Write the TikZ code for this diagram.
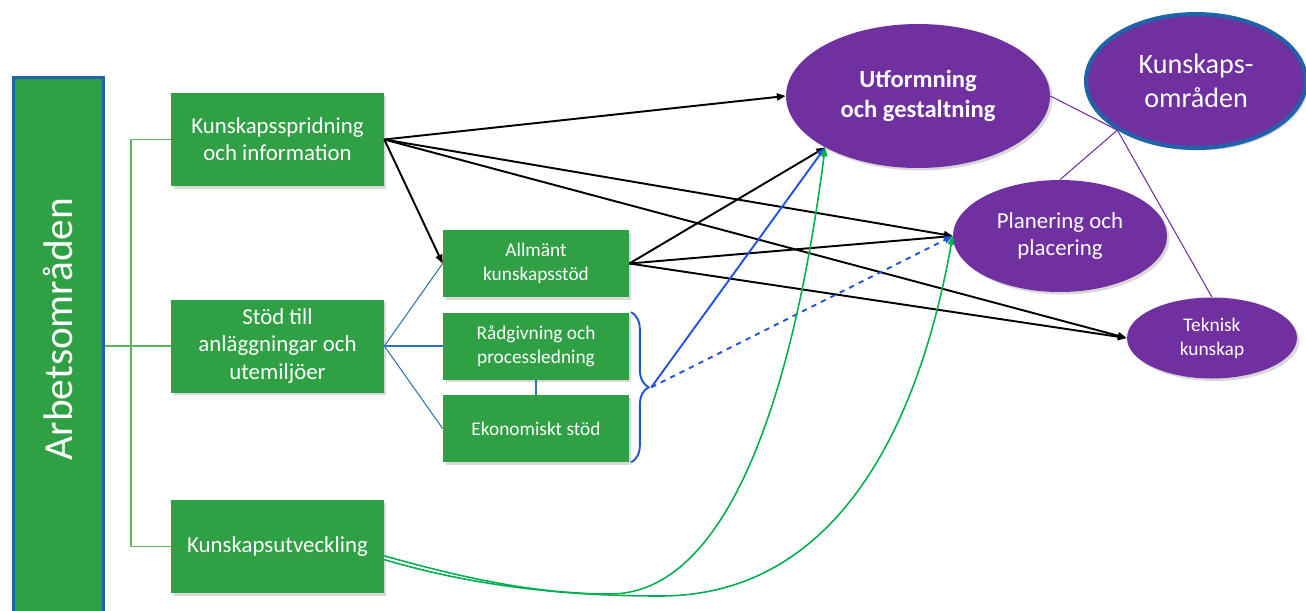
\documentclass[tikz,border=0pt]{standalone}
\usepackage{fontspec}
\setmainfont{Carlito}
\usetikzlibrary{positioning,arrows.meta,shapes.geometric,shadows,decorations.pathreplacing,calc}

\definecolor{boxgreen}{RGB}{47,160,68}
\definecolor{areapurple}{RGB}{112,48,160}
\definecolor{frameblue}{RGB}{31,100,170}
\definecolor{linkblue}{RGB}{35,85,215}
\definecolor{thinblue}{RGB}{46,117,182}
\definecolor{treegreen}{RGB}{90,180,90}
\definecolor{curvegreen}{RGB}{0,176,80}

\tikzset{
  softshadow/.style={drop shadow={shadow xshift=0.05cm, shadow yshift=-0.05cm, opacity=0.3}},
  greenbox/.style={rectangle, fill=boxgreen, text=white, align=center, softshadow},
  areabox/.style={greenbox, minimum width=4.26cm, minimum height=1.86cm, font=\fontsize{13}{15.5}\selectfont},
  subbox/.style={greenbox, minimum width=3.72cm, minimum height=1.34cm, font=\fontsize{11}{13.8}\selectfont},
  arbbox/.style={rectangle, fill=boxgreen, draw=frameblue, line width=1.7pt, text=white,
    minimum width=10.88cm, minimum height=1.8cm, font=\fontsize{23.5}{28}\selectfont},
  field/.style={ellipse, fill=areapurple, text=white, align=center, inner sep=0pt, softshadow},
  link/.style={-{Triangle[length=5pt,width=4pt]}, line width=1.1pt},
  bluelink/.style={link, linkblue},
  growth/.style={-{Triangle[length=5pt,width=4pt]}, curvegreen, line width=0.9pt},
  branch/.style={thinblue, line width=0.6pt},
  tree/.style={treegreen, line width=0.6pt},
  scopeline/.style={areapurple, line width=0.6pt},
  bracestyle/.style={linkblue, line width=1.1pt, decorate, decoration={brace, amplitude=10pt}}
}

\begin{document}
\begin{tikzpicture}[x=0.02cm, y=-0.02cm]
\useasboundingbox (0,0) rectangle (1306,610);
\clip (0,0) rectangle (1306,610);
\fill[white] (0,0) rectangle (1306,610);

\node (Arb) [arbbox, rotate=90] at (58.5,349) {\hspace*{0.8cm}Arbetsområden};

\node (K1) [areabox] at (277.5,139.5) {Kunskapsspridning\\och information};
\node (K2) [areabox] at (277.5,346) {Stöd till\\anläggningar och\\utemiljöer};
\node (K3) [areabox] at (277.5,546.5) {Kunskapsutveckling};

\node (A) [subbox] at (536,263.5) {Allmänt\\kunskapsstöd};
\node (R) [subbox] at (536,346) {Rådgivning och\\processledning};
\node (E) [subbox] at (536,428.5) {Ekonomiskt stöd};

\node (U) [field, minimum width=5.28cm, minimum height=2.88cm, font=\bfseries\fontsize{14}{17}\selectfont] at (918,96) {Utformning\\och gestaltning};
\node (KO) [field, draw=frameblue, line width=2.3pt, minimum width=4.4cm, minimum height=2.68cm, font=\fontsize{16}{19}\selectfont] at (1196,81) {Kunskaps-\\områden};
\node (P) [field, minimum width=4.28cm, minimum height=2.24cm, font=\fontsize{13}{15.8}\selectfont] at (1060,236) {Planering och\\placering};
\node (T) [field, minimum width=3.4cm, minimum height=1.62cm, font=\fontsize{11}{13.6}\selectfont] at (1212,338) {Teknisk\\kunskap};

\coordinate (fork) at (131,346);
\draw[tree] (Arb.south |- K2.west) -- (K2.west);
\draw[tree] (K1.west) -| (fork) |- (K3.west);

\draw[branch] (K2.east) -- (A.west);
\draw[branch] (K2.east) -- (R.west);
\draw[branch] (K2.east) -- (E.west);
\draw[branch] (R.south) -- (E.north);

\draw[bracestyle] ([xshift=1pt]R.north east) -- ([xshift=1pt]E.south east);
\coordinate (tip) at ($(R.north east)!0.5!(E.south east)+(22,0)$);

\draw[link] (K1.east) -- (U.west);
\draw[link] (K1.east) -- (A.west);
\draw[link] (K1.east) -- (P.west);
\draw[link] (K1.east) -- (T.west);
\draw[link] (A.east) -- (U.209);
\draw[link] (A.east) -- (P.west);
\draw[link] (A.east) -- (T.west);

\draw[bluelink] (tip) -- (U.209);
\draw[bluelink, dashed] (tip) -- (P.west);

\draw[growth] (K3.-5) .. controls (470,580) and (540,594) .. (610,594) .. controls (720,594) and (790,420) .. (U.209);
\draw[growth] (K3.-7) .. controls (470,585) and (560,596) .. (660,596) .. controls (840,596) and (920,420) .. (P.west);

\draw[scopeline] (U.east) -- (KO.212);
\draw[scopeline] (P.north) -- (KO.212);
\draw[scopeline] (T.north) -- (KO.212);
\end{tikzpicture}
\end{document}
